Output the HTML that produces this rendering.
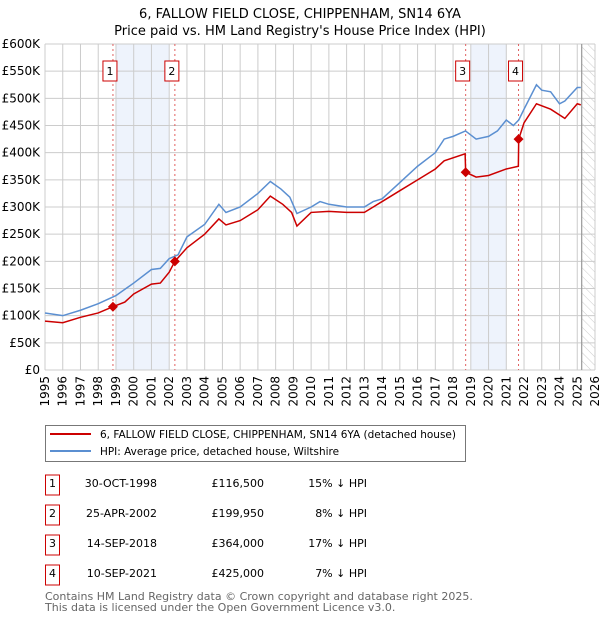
<!DOCTYPE html>
<html><head><meta charset="utf-8"><style>
body{margin:0;background:#fff;font-family:"DejaVu Sans","Liberation Sans",sans-serif;}
svg text{font-family:"DejaVu Sans","Liberation Sans",sans-serif;}
</style></head><body>
<svg id="chart" width="600" height="620" xmlns="http://www.w3.org/2000/svg">
<text x="300" y="18" text-anchor="middle" font-size="13">6, FALLOW FIELD CLOSE, CHIPPENHAM, SN14 6YA</text>
<text x="300" y="35" text-anchor="middle" font-size="13">Price paid vs. HM Land Registry's House Price Index (HPI)</text>
<g id="plot"></g>
<g>
<rect x="45.5" y="425.5" width="420" height="36" fill="#fff" stroke="#777"/>
<line x1="50" y1="434" x2="91" y2="434" stroke="#cc0000" stroke-width="2"/>
<text x="100" y="438" font-size="10.5" textLength="356" lengthAdjust="spacingAndGlyphs">6, FALLOW FIELD CLOSE, CHIPPENHAM, SN14 6YA (detached house)</text>
<line x1="50" y1="451" x2="91" y2="451" stroke="#5b8fd1" stroke-width="2"/>
<text x="100" y="455" font-size="10.5" textLength="239" lengthAdjust="spacingAndGlyphs">HPI: Average price, detached house, Wiltshire</text>
</g>
<g id="table" font-size="11"></g>
<text x="45" y="600" font-size="11" fill="#666">Contains HM Land Registry data © Crown copyright and database right 2025.</text>
<text x="45" y="611" font-size="11" fill="#666">This data is licensed under the Open Government Licence v3.0.</text>
</svg>
<script>
const hpiYears=[1995,1996,1997,1998,1999,2000,2001,2001.5,2002,2002.5,2003,2004,2004.8,2005.2,2006,2007,2007.7,2008.3,2008.8,2009.2,2010,2010.5,2011,2012,2013,2013.5,2014,2014.5,2015,2016,2017,2017.5,2018,2018.7,2019.3,2020,2020.5,2021,2021.4,2021.7,2022,2022.7,2023,2023.5,2024,2024.3,2025,2025.2];
const hpiValues=[105,100,110,122,137,160,185,187,205,212,245,268,305,290,300,325,347,333,318,288,300,310,305,300,300,310,315,330,345,375,400,425,430,440,425,430,440,460,450,460,480,525,515,512,490,495,520,520];
const redYears=[1995,1996,1997,1998,1998.83,1999.5,2000,2001,2001.5,2002,2002.32,2003,2004,2004.8,2005.2,2006,2007,2007.7,2008.4,2008.9,2009.2,2010,2011,2012,2013,2013.5,2014,2015,2016,2017,2017.5,2018.68,2018.71,2019.3,2020,2021,2021.68,2021.7,2022,2022.7,2023.5,2024.3,2025,2025.2];
const redValues=[90,87,97,105,116.5,125,140,158,160,180,200,225,250,278,267,275,295,320,305,290,265,290,292,290,290,300,310,330,350,370,385,398,364,355,358,370,375,425,455,490,480,463,490,488];
const saleYears=[1998.83,2002.32,2018.71,2021.69];
const salePrices=[116.5,199.95,364,425];
const saleLabels=["1","2","3","4"];
const saleDates=["30-OCT-1998","25-APR-2002","14-SEP-2018","10-SEP-2021"];
const salePriceText=["£116,500","£199,950","£364,000","£425,000"];
const saleDiff=["15% ↓ HPI","8% ↓ HPI","17% ↓ HPI","7% ↓ HPI"];
const yTicks=[0,50,100,150,200,250,300,350,400,450,500,550,600];
const yTickLabels=["£0","£50K","£100K","£150K","£200K","£250K","£300K","£350K","£400K","£450K","£500K","£550K","£600K"];
const xTicks=[1995,1996,1997,1998,1999,2000,2001,2002,2003,2004,2005,2006,2007,2008,2009,2010,2011,2012,2013,2014,2015,2016,2017,2018,2019,2020,2021,2022,2023,2024,2025,2026];
const shadeRanges=[[1999,2002],[2019,2021]];

const NS="http://www.w3.org/2000/svg";
const X0=45,X1=595,Y0=370,Y1=44;
const xs=y=>X0+(y-1995)/(2026-1995)*(X1-X0);
const ys=v=>Y0-v/600*(Y0-Y1);
const plot=document.getElementById('plot');
function mk(tag,attrs,parent){const e=document.createElementNS(NS,tag);for(const k in attrs)e.setAttribute(k,attrs[k]);(parent||plot).appendChild(e);return e;}

shadeRanges.forEach(r=>{const e=mk('rect',{x:xs(r[0]),y:Y1,width:xs(r[1])-xs(r[0]),height:Y0-Y1,fill:'#eef3fc'});

});
const defs=mk('defs',{});
const pat=mk('pattern',{id:'hatch',width:6,height:6,patternUnits:'userSpaceOnUse',patternTransform:'rotate(-45)'},defs);
mk('line',{x1:0,y1:0,x2:0,y2:6,stroke:'#ccc','stroke-width':1},pat);
const hx=xs(2025.25);
const hatch=mk('rect',{x:hx,y:Y1,width:X1-hx,height:Y0-Y1,fill:'url(#hatch)'});



yTicks.forEach((t,i)=>{const l=mk('line',{x1:X0,x2:X1,y1:ys(t),y2:ys(t),stroke:'#ccc'});


const tx=mk('text',{x:40,y:ys(t)+4,'text-anchor':'end','font-size':12});tx.textContent=yTickLabels[i];

});
xTicks.forEach(t=>{const l=mk('line',{x1:xs(t),x2:xs(t),y1:Y1,y2:Y0,stroke:'#ccc'});


const tx=mk('text',{x:0,y:0,'font-size':12,'text-anchor':'end',transform:`translate(${xs(t)+4},${Y0+6}) rotate(-90)`});tx.textContent=t;

});
const vl=mk('line',{x1:hx,x2:hx,y1:Y1,y2:Y0,stroke:'#999','stroke-width':1.2});



saleYears.forEach((y,i)=>{const l=mk('line',{x1:xs(y),x2:xs(y),y1:Y1,y2:Y0,stroke:'#e06060','stroke-dasharray':'2,3'});


const bx=mk('rect',{x:xs(y)-10,y:61,width:14,height:20,fill:'#fff',stroke:'#cc0000'});


const tx=mk('text',{x:xs(y)-3,y:75,'text-anchor':'middle','font-size':11});tx.textContent=saleLabels[i];

});

const pts=(a,b)=>a.map((y,i)=>xs(y)+','+ys(b[i])).join(' ');
const hl=mk('polyline',{points:pts(hpiYears,hpiValues),fill:'none',stroke:'#5b8fd1','stroke-width':1.5});


const rl=mk('polyline',{points:pts(redYears,redValues),fill:'none',stroke:'#cc0000','stroke-width':1.5});


saleYears.forEach((y,i)=>{const c=mk('path',{d:`M${xs(y)} ${ys(salePrices[i])-5}l5 5l-5 5l-5 -5z`,fill:'#cc0000'});

});

const tb=document.getElementById('table');
saleLabels.forEach((s,i)=>{const cy=485+i*30;
const b=mk('rect',{x:45.5,y:cy-10,width:14,height:20,fill:'#fff',stroke:'#cc0000'},tb);


const t0=mk('text',{x:52.5,y:cy+2,'text-anchor':'middle'},tb);t0.textContent=s;


const t1=mk('text',{x:157,y:cy+2,'text-anchor':'end'},tb);t1.textContent=saleDates[i];


const t2=mk('text',{x:264,y:cy+2,'text-anchor':'end'},tb);t2.textContent=salePriceText[i];


const t3=mk('text',{x:367,y:cy+2,'text-anchor':'end'},tb);t3.textContent=saleDiff[i];

});
</script>
</body></html>
